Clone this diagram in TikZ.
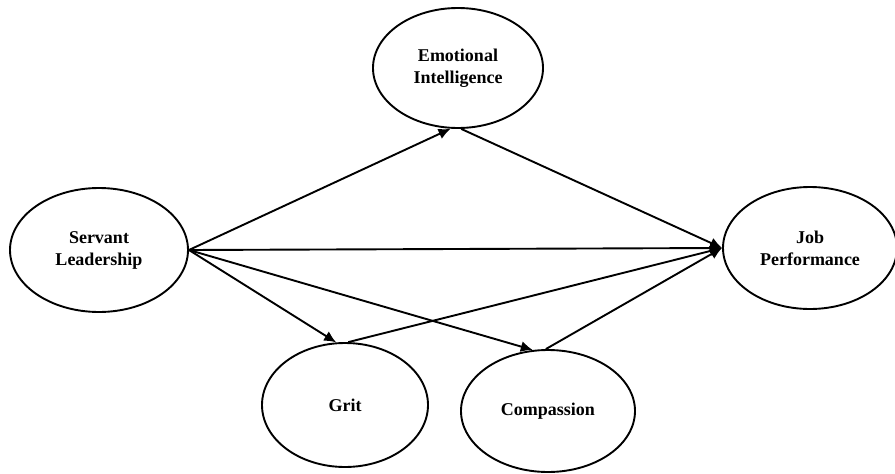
\documentclass[tikz,border=0pt]{standalone}
\usepackage{fontspec}
\setmainfont{Liberation Serif}
\usepackage{tikz}
\usetikzlibrary{shapes.geometric}
\usetikzlibrary{arrows.meta}

\begin{document}
\begin{tikzpicture}[x=1pt,y=1pt,
        construct/.style={draw,ellipse,line width=1.9pt,inner sep=0pt,align=center,
            font=\fontsize{18}{22}\selectfont\bfseries},
        link/.style={line width=1.9pt,-{Latex[length=12pt,width=11pt]}}]
        \useasboundingbox (0,0) rectangle (895,-474);
        \node[construct,minimum width=170,minimum height=120] (ei) at (458,-68) {Emotional\\Intelligence};
        \node[construct,minimum width=178,minimum height=124] (sl) at (99,-250) {Servant\\Leadership};
        \node[construct,minimum width=174,minimum height=122] (jp) at (810,-248) {Job\\Performance};
        \node[construct,minimum width=166,minimum height=124] (grit) at (345,-405) {Grit};
        \node[construct,minimum width=174,minimum height=122] (comp) at (548,-411) {Compassion};
        \draw[link] (sl.east) -- (ei.263);
        \draw[link] (ei.273) -- (jp.west);
        \draw[link] (sl.east) -- (jp.west);
        \draw[link] (sl.east) -- (grit.98);
        \draw[link] (sl.east) -- (comp.104);
        \draw[link] (grit.87) -- (jp.west);
        \draw[link] (comp.92) -- (jp.west);
    \end{tikzpicture}
\end{document}
